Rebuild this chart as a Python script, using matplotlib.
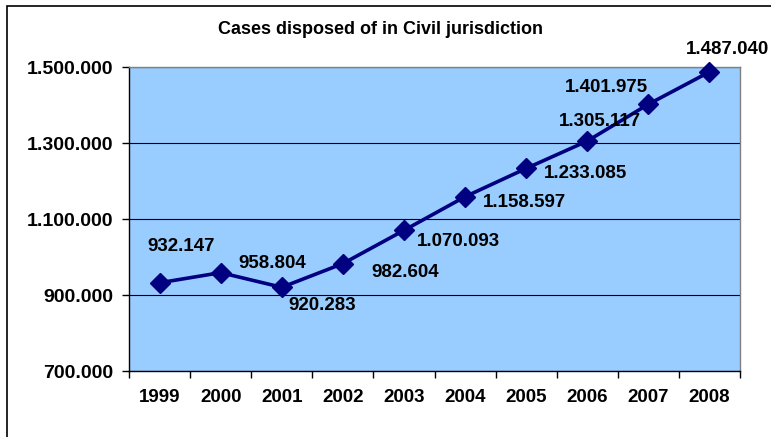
import matplotlib
matplotlib.use('Agg')
import matplotlib.pyplot as plt
from matplotlib.patches import Rectangle
from matplotlib.ticker import FuncFormatter, FixedLocator, NullFormatter

matplotlib.rcParams['font.family'] = ['Liberation Sans', 'DejaVu Sans']
matplotlib.rcParams['font.weight'] = 'bold'

# ---- data ----
YEARS = ['1999', '2000', '2001', '2002', '2003', '2004', '2005', '2006', '2007', '2008']
CASES = [932147, 958804, 920283, 982604, 1070093, 1158597, 1233085, 1305117, 1401975, 1487040]
TITLE = 'Cases disposed of in Civil jurisdiction'

# label offsets in pixels (manually placed labels, as in the original)
LABEL_OFFSETS = [(22, 36), (52, 9), (40, -18), (62, -9), (54, -11),
                 (59, -6), (59, -5), (13, 20), (-42, 17), (18, 22)]

NAVY = '#000080'
PLOT_BG = '#99CCFF'


def dotted(v):
    return f'{int(v):,}'.replace(',', '.')


fig = plt.figure(figsize=(7.71, 4.37), dpi=100)
W, H = 771, 437

# outer chart border (runs off the right and bottom edges)
fig.patches.append(Rectangle((7 / W, -0.1), 1.2, 1 - 6 / H + 0.1,
                             transform=fig.transFigure, fill=False,
                             edgecolor='black', linewidth=1.2))

ax = fig.add_axes([129 / W, 1 - 371 / H, (740 - 129) / W, (371 - 67) / H])
ax.set_facecolor(PLOT_BG)

x = list(range(len(YEARS)))
ax.plot(x, CASES, color=NAVY, linewidth=2.6, marker='D', markersize=10.5,
        markeredgecolor=NAVY, markerfacecolor=NAVY, zorder=3, clip_on=False)

for xi, v, (dx, dy) in zip(x, CASES, LABEL_OFFSETS):
    ax.annotate(dotted(v), (xi, v), xytext=(dx, dy), textcoords='offset pixels',
                ha='center', va='center', fontsize=13.5, fontweight='bold',
                annotation_clip=False, zorder=4)

ax.set_xlim(-0.5, len(YEARS) - 0.5)
ax.set_ylim(700000, 1500000)
ax.set_yticks([700000, 900000, 1100000, 1300000, 1500000])
ax.yaxis.set_major_formatter(FuncFormatter(lambda v, p: dotted(v)))
ax.grid(axis='y', color='black', linewidth=0.8)
ax.set_axisbelow(True)

# category labels centred, ticks at category boundaries
ax.set_xticks(x)
ax.set_xticklabels(YEARS)
ax.tick_params(axis='x', which='major', length=0, pad=13, labelsize=13.5)
ax.xaxis.set_minor_locator(FixedLocator([i - 0.5 for i in range(len(YEARS) + 1)]))
ax.xaxis.set_minor_formatter(NullFormatter())
ax.tick_params(axis='x', which='minor', length=5, width=1, color='black')
ax.tick_params(axis='y', length=5, width=1, pad=6, labelsize=14)

for name in ('left', 'bottom'):
    ax.spines[name].set_color('black')
    ax.spines[name].set_linewidth(1)
for name in ('top', 'right'):
    ax.spines[name].set_color('#808080')
    ax.spines[name].set_linewidth(1)

fig.text(380 / W, 1 - 30 / H, TITLE, ha='center', va='center',
         fontsize=13, fontweight='bold')

fig.savefig('out.png', dpi=100, facecolor='white')
